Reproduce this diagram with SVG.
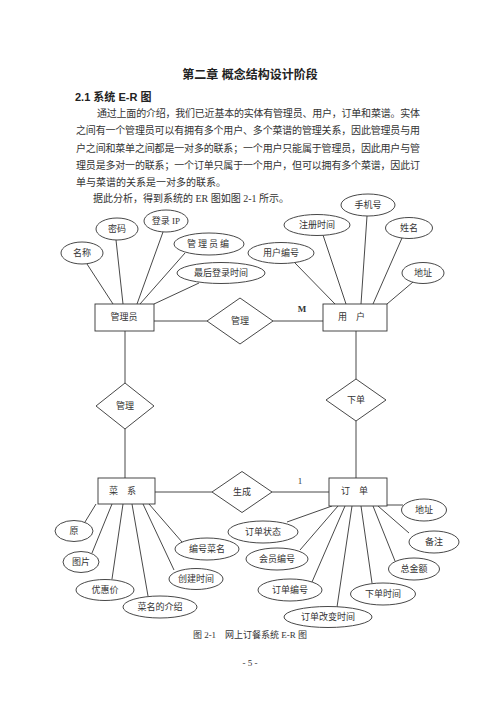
<svg xmlns="http://www.w3.org/2000/svg" width="500" height="707" viewBox="0 0 500 707">
<style>
.bg{fill:#fff}
.ln{stroke:#333;stroke-width:0.9;fill:none}
.sh{stroke:#333;stroke-width:0.9;fill:#fff}
.lb{font-family:"Liberation Serif","Noto Sans CJK SC",serif;font-size:9px;fill:#333;text-anchor:middle;dominant-baseline:central}
.pt{font-family:"Liberation Serif","Noto Sans CJK SC",serif;font-size:10px;fill:#333}
.hd{font-family:"Liberation Sans","Noto Sans CJK SC",sans-serif;font-weight:bold;fill:#222}
</style>
<rect class="bg" x="0" y="0" width="500" height="707"/>
<g id="header">
<text class="hd" x="250" y="79" font-size="12" text-anchor="middle">第二章 概念结构设计阶段</text>
<text class="hd" x="75" y="101" font-size="11">2.1 系统 E-R 图</text>
<text class="pt" x="97" y="117" textLength="323" lengthAdjust="spacing">通过上面的介绍，我们已近基本的实体有管理员、用户，订单和菜谱。实体</text>
<text class="pt" x="76" y="134" textLength="344" lengthAdjust="spacing">之间有一个管理员可以有拥有多个用户、多个菜谱的管理关系，因此管理员与用</text>
<text class="pt" x="76" y="151.5" textLength="344" lengthAdjust="spacing">户之间和菜单之间都是一对多的联系；一个用户只能属于管理员，因此用户与管</text>
<text class="pt" x="76" y="168.5" textLength="344" lengthAdjust="spacing">理员是多对一的联系；一个订单只属于一个用户，但可以拥有多个菜谱，因此订</text>
<text class="pt" x="76" y="185.5">单与菜谱的关系是一对多的联系。</text>
<text class="pt" x="93" y="202">据此分析，得到系统的 ER 图如图 2-1 所示。</text>
</g>
<g id="connectors">
<line class="ln" x1="87" y1="264" x2="113" y2="304"/>
<line class="ln" x1="116" y1="240" x2="123" y2="304"/>
<line class="ln" x1="163" y1="232" x2="137" y2="304"/>
<line class="ln" x1="185" y1="253" x2="140" y2="304"/>
<line class="ln" x1="199" y1="283" x2="154" y2="304"/>
<line class="ln" x1="154" y1="321" x2="207" y2="321"/>
<line class="ln" x1="273" y1="321" x2="323" y2="321"/>
<line class="ln" x1="295" y1="263" x2="335" y2="304"/>
<line class="ln" x1="323" y1="235" x2="346" y2="304"/>
<line class="ln" x1="367" y1="216" x2="361" y2="304"/>
<line class="ln" x1="402" y1="238" x2="373" y2="304"/>
<line class="ln" x1="413" y1="282" x2="387" y2="304"/>
<line class="ln" x1="125" y1="330" x2="125" y2="383"/>
<line class="ln" x1="125" y1="429" x2="125" y2="478"/>
<line class="ln" x1="356" y1="331" x2="356" y2="379"/>
<line class="ln" x1="356" y1="421" x2="356" y2="478"/>
<line class="ln" x1="155" y1="492" x2="212" y2="492"/>
<line class="ln" x1="272" y1="492" x2="329" y2="492"/>
<line class="ln" x1="96" y1="504" x2="85" y2="522"/>
<line class="ln" x1="112" y1="504" x2="92" y2="553"/>
<line class="ln" x1="123" y1="504" x2="112" y2="579"/>
<line class="ln" x1="132" y1="504" x2="148" y2="596"/>
<line class="ln" x1="143" y1="504" x2="174" y2="570"/>
<line class="ln" x1="149" y1="504" x2="182" y2="542"/>
<line class="ln" x1="387" y1="505" x2="403" y2="505"/>
<line class="ln" x1="332" y1="506" x2="287" y2="522"/>
<line class="ln" x1="338" y1="506" x2="300" y2="550"/>
<line class="ln" x1="345" y1="506" x2="312" y2="582"/>
<line class="ln" x1="352" y1="506" x2="337" y2="607"/>
<line class="ln" x1="361" y1="506" x2="372" y2="583"/>
<line class="ln" x1="373" y1="506" x2="395" y2="561"/>
<line class="ln" x1="378" y1="506" x2="409" y2="533"/>
</g>
<g id="admin">
<rect class="sh" x="95" y="304" width="59" height="27"/>
<text class="lb" x="124" y="317">管理员</text>
</g>
<g id="admin-name"><ellipse class="sh" cx="82" cy="253" rx="21" ry="11"/><text class="lb" x="82" y="253">名称</text></g>
<g id="admin-pwd"><ellipse class="sh" cx="117" cy="229" rx="21" ry="11"/><text class="lb" x="117" y="229">密码</text></g>
<g id="admin-ip"><ellipse class="sh" cx="166" cy="221" rx="22" ry="11"/><text class="lb" x="166" y="221">登录 IP</text></g>
<g id="admin-id"><ellipse class="sh" cx="209" cy="244" rx="35" ry="11"/><text class="lb" x="209" y="244" letter-spacing="2">管理员编</text></g>
<g id="admin-last"><ellipse class="sh" cx="221" cy="273" rx="44" ry="10.5"/><text class="lb" x="221" y="273">最后登录时间</text></g>
<g id="rel-manage-user">
<polygon class="sh" points="207,321 240,298 273,321 240,344"/>
<text class="lb" x="240" y="321">管理</text>
<text class="lb" x="302" y="309" font-weight="bold">M</text>
</g>
<g id="user">
<rect class="sh" x="323" y="304" width="64" height="27"/>
<text class="lb" x="356" y="317" letter-spacing="9">用户</text>
</g>
<g id="user-phone"><ellipse class="sh" cx="368" cy="205" rx="27" ry="11"/><text class="lb" x="368" y="205">手机号</text></g>
<g id="user-reg"><ellipse class="sh" cx="317" cy="225" rx="33" ry="10.5"/><text class="lb" x="317" y="225">注册时间</text></g>
<g id="user-name"><ellipse class="sh" cx="409" cy="228" rx="23.5" ry="10.5"/><text class="lb" x="409" y="228">姓名</text></g>
<g id="user-id"><ellipse class="sh" cx="281" cy="253" rx="33" ry="10.5"/><text class="lb" x="281" y="253">用户编号</text></g>
<g id="user-addr"><ellipse class="sh" cx="423" cy="273" rx="21" ry="10.5"/><text class="lb" x="423" y="273">地址</text></g>
<g id="rel-manage-menu">
<polygon class="sh" points="96,406 125,383 154,406 125,429"/>
<text class="lb" x="125" y="406">管理</text>
</g>
<g id="rel-order">
<polygon class="sh" points="326,400 356,379 386,400 356,421"/>
<text class="lb" x="356" y="400">下单</text>
</g>
<g id="menu">
<rect class="sh" x="98" y="478" width="57" height="26"/>
<text class="lb" x="127" y="491" letter-spacing="9">菜系</text>
</g>
<g id="menu-yuan"><ellipse class="sh" cx="74" cy="531" rx="19" ry="10.5"/><text class="lb" x="74" y="531">原</text></g>
<g id="menu-pic"><ellipse class="sh" cx="81" cy="562" rx="18" ry="10.5"/><text class="lb" x="81" y="562">图片</text></g>
<g id="menu-price"><ellipse class="sh" cx="105" cy="590" rx="29" ry="10.5"/><text class="lb" x="105" y="590">优惠价</text></g>
<g id="menu-intro"><ellipse class="sh" cx="160" cy="607" rx="37" ry="11"/><text class="lb" x="160" y="607">菜名的介绍</text></g>
<g id="menu-time"><ellipse class="sh" cx="196" cy="579" rx="27" ry="10.5"/><text class="lb" x="196" y="579">创建时间</text></g>
<g id="menu-id"><ellipse class="sh" cx="207" cy="549" rx="32" ry="11"/><text class="lb" x="207" y="549">编号菜名</text></g>
<g id="rel-generate">
<polygon class="sh" points="212,492 242,471.5 272,492 242,512.5"/>
<text class="lb" x="242" y="492">生成</text>
<text class="lb" x="300" y="481">1</text>
</g>
<g id="order">
<rect class="sh" x="329" y="478" width="58" height="28"/>
<text class="lb" x="359" y="491" letter-spacing="9">订单</text>
</g>
<g id="order-addr"><ellipse class="sh" cx="424" cy="510" rx="22.5" ry="11"/><text class="lb" x="424" y="510">地址</text></g>
<g id="order-note"><ellipse class="sh" cx="434" cy="542" rx="25" ry="11"/><text class="lb" x="434" y="542">备注</text></g>
<g id="order-total"><ellipse class="sh" cx="414" cy="569" rx="25.5" ry="11"/><text class="lb" x="414" y="569">总金额</text></g>
<g id="order-time"><ellipse class="sh" cx="383" cy="594" rx="32.5" ry="11"/><text class="lb" x="383" y="594">下单时间</text></g>
<g id="order-change"><ellipse class="sh" cx="328" cy="617" rx="44" ry="10.5"/><text class="lb" x="328" y="617">订单改变时间</text></g>
<g id="order-no"><ellipse class="sh" cx="290" cy="590" rx="32" ry="11"/><text class="lb" x="290" y="590">订单编号</text></g>
<g id="order-member"><ellipse class="sh" cx="277" cy="559" rx="31" ry="11"/><text class="lb" x="277" y="559">会员编号</text></g>
<g id="order-status"><ellipse class="sh" cx="263" cy="532" rx="35" ry="11"/><text class="lb" x="263" y="532">订单状态</text></g>
<g id="caption">
<text class="lb" x="250" y="635" font-size="10">图 2-1　网上订餐系统 E-R 图</text>
<text class="lb" x="250" y="663" font-size="7">- 5 -</text>
</g>
</svg>
